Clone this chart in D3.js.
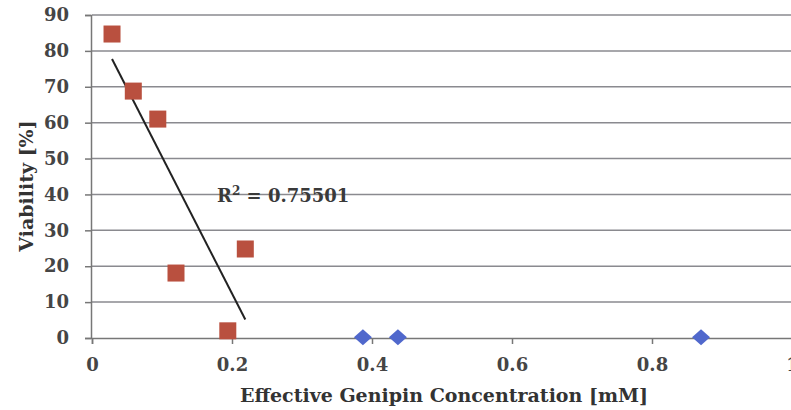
<!DOCTYPE html>
<html>
<head>
<meta charset="utf-8">
<script src="https://cdn.jsdelivr.net/npm/d3@7"></script>
<style>
  html, body { margin: 0; padding: 0; background: #fff; }
  svg { display: block; }
  text { font-family: "DejaVu Serif", "Liberation Serif", serif; font-weight: bold; }
</style>
</head>
<body>
<svg id="chart" width="791" height="410"></svg>
<script>
// Genipin concentration (mM) vs. cell viability (%)
const treatedConc = [0.0286, 0.059, 0.094, 0.120, 0.194, 0.219];
const treatedViability = [84.7, 68.8, 61.0, 18.1, 2.0, 24.8];
const highConc = [0.387, 0.437, 0.870];
const highViability = [0.2, 0.2, 0.2];
const xTicks = [0, 0.2, 0.4, 0.6, 0.8, 1];
const yTicks = [0, 10, 20, 30, 40, 50, 60, 70, 80, 90];
const rSquaredLabel = "0.75501";

const svg = d3.select("#chart");
const plotLeft = 92, plotRight = 792, plotTop = 15, plotBottom = 338;

const x = d3.scaleLinear().domain([0, 1]).range([plotLeft, plotRight]);
const y = d3.scaleLinear().domain([0, 90]).range([plotBottom, plotTop]);

// horizontal gridlines
svg.append("g")
  .selectAll("line")
  .data(yTicks.filter(d => d > 0))
  .join("line")
  .attr("x1", plotLeft).attr("x2", plotRight)
  .attr("y1", d => y(d)).attr("y2", d => y(d))
  .attr("stroke", "#8a8a8f").attr("stroke-width", 1.5);

// y axis
const yAxis = svg.append("g")
  .attr("transform", `translate(${plotLeft - 1},0)`)
  .call(d3.axisLeft(y).tickValues(yTicks).tickSize(6).tickPadding(16).tickFormat(d3.format("d")));
yAxis.select(".domain").attr("stroke", "#777").attr("stroke-width", 1.5);
yAxis.selectAll(".tick line").attr("stroke", "#777").attr("stroke-width", 1.5);
yAxis.selectAll(".tick text")
  .attr("fill", "#454545").style("font-size", "18px")
  .style("font-family", "'DejaVu Serif', serif").style("font-weight", "bold");

// x axis
const xAxis = svg.append("g")
  .attr("transform", `translate(0,${plotBottom})`)
  .call(d3.axisBottom(x).tickValues(xTicks).tickSize(6).tickPadding(14).tickFormat(d => d === 0 || d === 1 ? d3.format("d")(d) : d3.format(".1f")(d)));
xAxis.select(".domain").attr("stroke", "#777").attr("stroke-width", 1.5);
xAxis.selectAll(".tick line").attr("stroke", "#777").attr("stroke-width", 1.5);
xAxis.selectAll(".tick text")
  .attr("fill", "#454545").style("font-size", "18px")
  .style("font-family", "'DejaVu Serif', serif").style("font-weight", "bold");

// linear least-squares fit of treated samples
const n = treatedConc.length;
const mx = d3.mean(treatedConc), my = d3.mean(treatedViability);
let sxy = 0, sxx = 0;
for (let i = 0; i < n; i++) {
  sxy += (treatedConc[i] - mx) * (treatedViability[i] - my);
  sxx += (treatedConc[i] - mx) ** 2;
}
const slope = sxy / sxx, intercept = my - slope * mx;
const [x0, x1] = d3.extent(treatedConc);
svg.append("line")
  .attr("x1", x(x0)).attr("y1", y(intercept + slope * x0))
  .attr("x2", x(x1)).attr("y2", y(intercept + slope * x1))
  .attr("stroke", "#222").attr("stroke-width", 2);

// treated samples (squares)
const sq = 17;
svg.append("g")
  .selectAll("rect")
  .data(treatedConc.map((c, i) => [c, treatedViability[i]]))
  .join("rect")
  .attr("x", d => x(d[0]) - sq / 2).attr("y", d => y(d[1]) - sq / 2)
  .attr("width", sq).attr("height", sq)
  .attr("fill", "#b9503f");

// high-concentration samples (diamonds)
svg.append("g")
  .selectAll("path")
  .data(highConc.map((c, i) => [c, highViability[i]]))
  .join("path")
  .attr("d", d => {
    const cx = x(d[0]), cy = y(d[1]);
    return `M${cx},${cy - 8}L${cx + 9},${cy}L${cx},${cy + 8}L${cx - 9},${cy}Z`;
  })
  .attr("fill", "#5068cc");

// R² annotation
const rt = svg.append("text")
  .attr("x", 217).attr("y", 202)
  .attr("fill", "#3a3a3a").style("font-size", "18px");
rt.append("tspan").text("R");
rt.append("tspan").attr("dy", -7).style("font-size", "12px").text("2");
rt.append("tspan").attr("dy", 7).text(" = " + rSquaredLabel);

// axis titles
svg.append("text")
  .attr("x", 444).attr("y", 402)
  .attr("text-anchor", "middle")
  .attr("fill", "#333").style("font-size", "19px")
  .text("Effective Genipin Concentration [mM]");

svg.append("text")
  .attr("transform", `translate(33,186) rotate(-90)`)
  .attr("text-anchor", "middle")
  .attr("fill", "#333").style("font-size", "19px")
  .text("Viability [%]");
</script>
</body>
</html>
